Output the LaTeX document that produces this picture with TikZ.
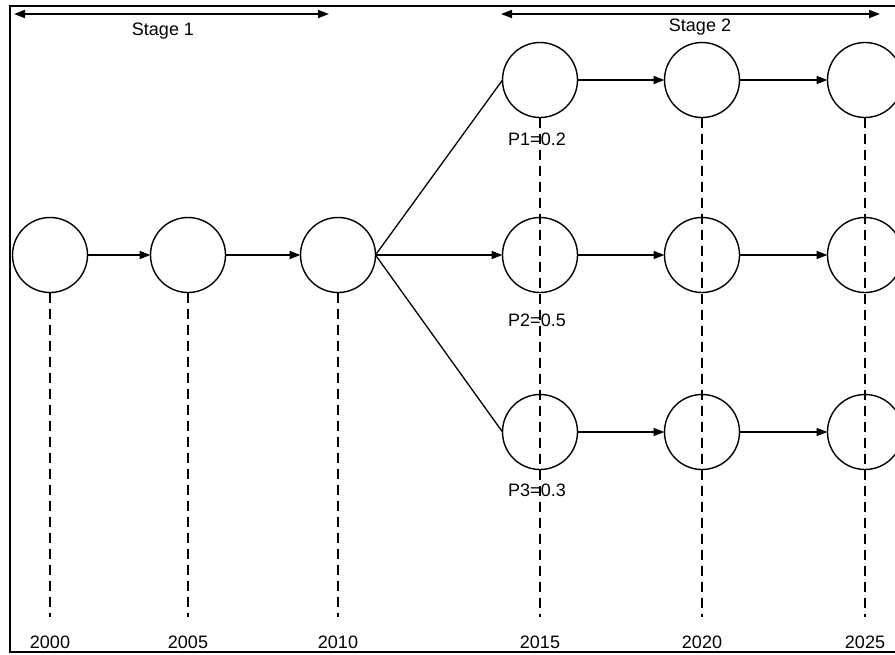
\documentclass[tikz,border=0pt]{standalone}
\usepackage{fontspec}
\setmainfont{Liberation Sans}
\usetikzlibrary{arrows.meta, positioning}

\begin{document}
\begin{tikzpicture}[x=1pt, y=-1pt,
        every node/.append style={font=\fontsize{18}{21}\selectfont},
        state/.style={circle, draw, line width=1.4pt, minimum size=75pt, inner sep=0pt, outer sep=0pt},
        link/.style={line width=1.7pt, -{Triangle[length=11pt, width=8pt]}},
        thin link/.style={line width=1.1pt, -{Triangle[length=11pt, width=8pt]}},
        branch/.style={line width=1.3pt},
        time/.style={line width=1.8pt, dash pattern=on 10pt off 6pt, shorten >=15pt},
        span/.style={line width=1.7pt, {Triangle[length=11pt, width=8pt]}-{Triangle[length=11pt, width=8pt]}}]
        \useasboundingbox (0,0) rectangle (895,654);
        \clip (0,0) rectangle (895,654);
        \draw[line width=2.2pt] (10,6) rectangle (920,652);

        \node[state]                    (c2000) at (50,255) {};
        \node[state, right=63pt of c2000]  (c2005) {};
        \node[state, right=75pt of c2005]  (c2010) {};
        \node[state, right=127pt of c2010] (c2015) {};
        \node[state, right=87pt of c2015]  (c2020) {};
        \node[state, right=88pt of c2020]  (c2025) {};
        \node[state, above=100pt of c2015] (u2015) {};
        \node[state, above=100pt of c2020] (u2020) {};
        \node[state, above=100pt of c2025] (u2025) {};
        \node[state, below=102pt of c2015] (d2015) {};
        \node[state, below=102pt of c2020] (d2020) {};
        \node[state, below=102pt of c2025] (d2025) {};

        % years
        \node (y2000) at (c2000 |- 0,642) {2000};
        \node (y2005) at (c2005 |- 0,642) {2005};
        \node (y2010) at (c2010 |- 0,642) {2010};
        \node (y2015) at (c2015 |- 0,642) {2015};
        \node (y2020) at (c2020 |- 0,642) {2020};
        \node (y2025) at (c2025 |- 0,642) {2025};

        \draw[time] (c2000.south) -- (y2000.north);
        \draw[time] (c2005.south) -- (y2005.north);
        \draw[time, line width=1.1pt] (c2010.south) -- (y2010.north);
        \draw[time, line width=1.3pt] (u2015.south) -- (y2015.north);
        \draw[time] (u2020.south) -- (y2020.north);
        \draw[time] (u2025.south) -- (y2025.north);

        % probabilities
        \node (p1) at (537,139) {P1=0.2};
        \node (p2) at (537,320) {P2=0.5};
        \node (p3) at (537,490) {P3=0.3};

        % stages
        \coordinate (s1a) at (14,14);
        \coordinate (s1b) at (329,14);
        \coordinate (s2a) at (501,14);
        \coordinate (s2b) at (880,14);
        \draw[span] (s1a) -- (s1b);
        \draw[span] (s2a) -- (s2b);
        \node (st1) at (163,31) {Stage 1};
        \node (st2) at (700,27) {Stage 2};

        \draw[link] (c2000) -- (c2005);
        \draw[link] (c2005) -- (c2010);
        \draw[link] (c2010) -- (c2015);
        \draw[branch] (c2010.east) -- (u2015.west);
        \draw[branch] (c2010.east) -- (d2015.west);
        \draw[link] (u2015) -- (u2020);
        \draw[link] (u2020) -- (u2025);
        \draw[link] (c2015) -- (c2020);
        \draw[link] (c2020) -- (c2025);
        \draw[thin link] (d2015) -- (d2020);
        \draw[thin link] (d2020) -- (d2025);
\end{tikzpicture}
\end{document}
